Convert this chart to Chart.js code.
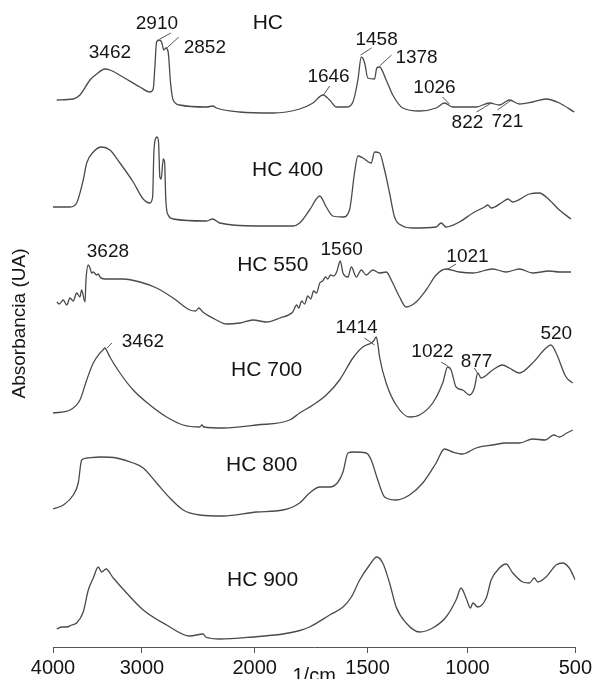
<!DOCTYPE html>
<html><head><meta charset="utf-8">
<script src="https://cdn.jsdelivr.net/npm/chart.js@4.4.1/dist/chart.umd.min.js"></script>
<style>html,body{margin:0;padding:0;background:#fff;overflow:hidden;width:595px;height:679px}canvas{display:block}</style>
</head><body><canvas id="c" width="595" height="688"></canvas>
<script>
const xTicks = [4000, 3000, 2000, 1500, 1000, 500];
const seriesNames = ['HC', 'HC 400', 'HC 550', 'HC 700', 'HC 800', 'HC 900'];

const hcSpectrum = [[3958,5.47],[3772,5.48],[3697,5.52],[3584,5.67],[3509,5.73],[3416,5.78],[3360,5.77],[3213,5.70],[3022,5.60],[2929,5.55],[2900,5.58],[2885,5.80],[2870,6.05],[2847,6.07],[2826,6.05],[2805,5.97],[2788,5.99],[2767,5.95],[2746,5.64],[2723,5.47],[2664,5.42],[2427,5.40],[2372,5.41],[2339,5.39],[2133,5.35],[1919,5.34],[1801,5.38],[1742,5.44],[1698,5.52],[1668,5.47],[1638,5.40],[1594,5.40],[1565,5.45],[1543,5.67],[1528,5.90],[1513,5.84],[1499,5.69],[1465,5.68],[1454,5.79],[1440,5.80],[1407,5.67],[1374,5.52],[1324,5.39],[1240,5.36],[1157,5.39],[1115,5.44],[1074,5.40],[1040,5.40],[960,5.40],[898,5.44],[852,5.42],[806,5.47],[759,5.43],[698,5.45],[636,5.48],[574,5.44],[505,5.35]];

const hc400Spectrum = [[4000,4.40],[3809,4.40],[3734,4.44],[3660,4.67],[3621,4.84],[3547,4.95],[3453,5.00],[3360,4.97],[3247,4.84],[3098,4.65],[2988,4.48],[2929,4.44],[2905,4.50],[2894,4.94],[2876,5.09],[2865,5.10],[2852,5.04],[2841,4.70],[2829,4.68],[2811,4.88],[2799,4.85],[2788,4.47],[2767,4.32],[2723,4.28],[2427,4.26],[2374,4.28],[2310,4.24],[1992,4.21],[1831,4.21],[1801,4.24],[1757,4.37],[1712,4.51],[1683,4.40],[1654,4.31],[1609,4.30],[1580,4.37],[1558,4.74],[1543,4.91],[1521,4.89],[1482,4.84],[1465,4.95],[1440,4.94],[1415,4.77],[1390,4.54],[1365,4.30],[1324,4.21],[1274,4.19],[1157,4.20],[1132,4.24],[1107,4.20],[1040,4.25],[975,4.34],[921,4.40],[906,4.42],[890,4.39],[837,4.45],[813,4.48],[790,4.45],[713,4.53],[667,4.54],[620,4.47],[574,4.37],[520,4.28]];

const hc550Spectrum = [[3958,3.45],[3930,3.43],[3884,3.47],[3846,3.42],[3809,3.49],[3772,3.46],[3734,3.54],[3697,3.50],[3678,3.57],[3640,3.45],[3629,3.67],[3603,3.82],[3584,3.79],[3565,3.74],[3547,3.75],[3509,3.72],[3490,3.73],[3472,3.70],[3416,3.68],[3210,3.68],[3022,3.65],[2870,3.59],[2723,3.49],[2575,3.37],[2522,3.36],[2496,3.39],[2460,3.35],[2339,3.27],[2250,3.23],[2133,3.24],[2015,3.27],[1948,3.25],[1889,3.29],[1832,3.35],[1814,3.42],[1805,3.39],[1792,3.46],[1779,3.43],[1765,3.51],[1752,3.48],[1739,3.56],[1726,3.54],[1712,3.64],[1699,3.66],[1686,3.70],[1677,3.68],[1664,3.72],[1651,3.71],[1637,3.75],[1621,3.86],[1609,3.74],[1587,3.70],[1572,3.80],[1550,3.70],[1528,3.77],[1506,3.72],[1474,3.77],[1440,3.74],[1407,3.75],[1374,3.64],[1340,3.50],[1307,3.40],[1257,3.45],[1207,3.57],[1157,3.72],[1107,3.78],[1040,3.75],[975,3.74],[883,3.78],[821,3.75],[759,3.78],[698,3.74],[620,3.76],[574,3.75],[520,3.75]];

const hc700Spectrum = [[4000,2.34],[3809,2.37],[3697,2.47],[3621,2.67],[3547,2.84],[3472,2.94],[3438,2.97],[3416,2.99],[3393,2.96],[3360,2.90],[3247,2.74],[3098,2.57],[2929,2.42],[2781,2.30],[2635,2.22],[2487,2.20],[2469,2.22],[2450,2.20],[2281,2.19],[1992,2.22],[1845,2.27],[1801,2.34],[1742,2.42],[1683,2.52],[1624,2.67],[1565,2.89],[1521,3.00],[1482,3.04],[1470,3.06],[1457,3.10],[1448,3.02],[1440,2.90],[1407,2.64],[1357,2.42],[1290,2.30],[1240,2.32],[1174,2.44],[1124,2.64],[1099,2.80],[1082,2.77],[1057,2.60],[1024,2.57],[991,2.52],[968,2.59],[952,2.74],[937,2.69],[883,2.77],[837,2.82],[806,2.79],[759,2.74],[698,2.84],[636,2.99],[613,3.02],[589,2.94],[543,2.70],[512,2.64]];

const hc800Spectrum = [[4000,1.38],[3884,1.42],[3772,1.52],[3716,1.64],[3678,1.87],[3621,1.89],[3472,1.90],[3284,1.89],[3098,1.84],[2988,1.79],[2870,1.64],[2752,1.49],[2634,1.37],[2487,1.32],[2281,1.31],[1992,1.35],[1875,1.37],[1801,1.44],[1757,1.54],[1712,1.60],[1668,1.60],[1631,1.65],[1609,1.75],[1587,1.94],[1565,1.95],[1506,1.94],[1482,1.87],[1449,1.67],[1415,1.50],[1357,1.47],[1290,1.52],[1224,1.64],[1157,1.84],[1115,1.98],[1074,1.95],[1024,1.93],[960,1.99],[883,2.02],[821,2.04],[759,2.04],[698,2.08],[640,2.07],[600,2.12],[574,2.10],[540,2.14],[512,2.17]];

const hc900Spectrum = [[3958,0.18],[3900,0.20],[3846,0.20],[3790,0.22],[3734,0.24],[3660,0.35],[3603,0.57],[3547,0.69],[3491,0.80],[3453,0.75],[3404,0.78],[3322,0.69],[3172,0.54],[2988,0.37],[2781,0.22],[2575,0.11],[2457,0.13],[2434,0.10],[2310,0.08],[2015,0.10],[1875,0.13],[1808,0.16],[1757,0.20],[1668,0.32],[1609,0.40],[1572,0.50],[1535,0.67],[1490,0.82],[1454,0.90],[1424,0.84],[1390,0.64],[1357,0.40],[1307,0.24],[1240,0.15],[1174,0.19],[1107,0.30],[1057,0.47],[1032,0.59],[1007,0.49],[986,0.39],[975,0.44],[952,0.40],[913,0.49],[890,0.67],[852,0.79],[821,0.83],[790,0.74],[744,0.65],[713,0.64],[690,0.69],[674,0.65],[636,0.70],[589,0.82],[559,0.84],[528,0.79],[500,0.67]];

// series name labels: [wavenumber, absorbance]
const nameAnchors = [[1942,6.24],[1854,4.77],[1920,3.82],[1947,2.77],[1969,1.82],[1965,0.67]];
// peak labels: [text, wavenumber, absorbance]
const peakLabels = [['3462',3360,5.94],['2910',2867,6.23],['2852',2442,5.99],['1646',1673,5.70],['1458',1455,6.07],['1378',1255,5.89],['1026',1165,5.59],['822',1000,5.24],['721',815,5.25],['3628',3382,3.95],['1560',1615,3.97],['1021',1000,3.90],['3462',2991,3.05],['1414',1549,3.19],['1022',1175,2.95],['877',958,2.85],['520',588,3.13]];
// leader lines: [w1, a1, w2, a2]
const leaderLines = [[2841,6.08,2743,6.14],[2779,5.99,2673,6.10],[1531,5.92,1480,5.99],[1440,5.81,1380,5.92],[1695,5.52,1668,5.61],[1125,5.50,1090,5.43],[958,5.35,889,5.44],[861,5.37,796,5.47],[1107,3.77,1057,3.83],[3393,2.99,3337,3.04],[1514,3.09,1465,3.02],[1132,2.85,1099,2.81],[968,2.79,954,2.74]];

const spectra = [hcSpectrum, hc400Spectrum, hc550Spectrum, hc700Spectrum, hc800Spectrum, hc900Spectrum];

// axis break layout (fraction of axis length where each tick sits)
const tickFrac = [0, 0.1702, 0.3862, 0.6023, 0.7935, 1];

function waveToFrac(v) {
  let i = 0;
  while (i < xTicks.length - 2 && v < xTicks[i + 1]) i++;
  const a = xTicks[i], b = xTicks[i + 1];
  return tickFrac[i] + (a - v) / (a - b) * (tickFrac[i + 1] - tickFrac[i]);
}
function fracToWave(f) {
  let i = 0;
  while (i < tickFrac.length - 2 && f > tickFrac[i + 1]) i++;
  const a = xTicks[i], b = xTicks[i + 1];
  return a - (f - tickFrac[i]) / (tickFrac[i + 1] - tickFrac[i]) * (a - b);
}

class WaveScale extends Chart.LinearScale {
  buildTicks() { return xTicks.map(v => ({ value: v })); }
  getPixelForValue(value) {
    if (value === null || value === undefined || isNaN(value)) return NaN;
    return this.left + waveToFrac(value) * this.width;
  }
  getValueForPixel(pixel) {
    return fracToWave((pixel - this.left) / this.width);
  }
}
WaveScale.id = 'wave';
WaveScale.defaults = {};
Chart.register(WaveScale);

const FONT = '"Liberation Sans", Arial, sans-serif';
const lineColor = '#4a4a4a';
const textColor = '#151515';

const annotate = {
  id: 'annotate',
  afterDatasetsDraw(chart) {
    const ctx = chart.ctx, xs = chart.scales.x, ys = chart.scales.y;
    ctx.save();
    ctx.strokeStyle = '#555';
    ctx.lineWidth = 1;
    leaderLines.forEach(l => {
      ctx.beginPath();
      ctx.moveTo(xs.getPixelForValue(l[0]), ys.getPixelForValue(l[1]));
      ctx.lineTo(xs.getPixelForValue(l[2]), ys.getPixelForValue(l[3]));
      ctx.stroke();
    });
    ctx.fillStyle = textColor;
    ctx.textAlign = 'center';
    ctx.textBaseline = 'middle';
    ctx.font = '19px ' + FONT;
    peakLabels.forEach(p => ctx.fillText(p[0], xs.getPixelForValue(p[1]), ys.getPixelForValue(p[2])));
    ctx.font = '21px ' + FONT;
    nameAnchors.forEach((n, i) => ctx.fillText(seriesNames[i], xs.getPixelForValue(n[0]), ys.getPixelForValue(n[1])));
    ctx.restore();
  }
};

new Chart(document.getElementById('c'), {
  type: 'line',
  data: {
    datasets: spectra.map((s, i) => ({
      label: seriesNames[i],
      data: s.map(p => ({ x: p[0], y: p[1] })),
      borderColor: lineColor,
      borderWidth: 1.3,
      pointRadius: 0,
      cubicInterpolationMode: 'monotone',
      fill: false
    }))
  },
  options: {
    responsive: false,
    animation: false,
    devicePixelRatio: 1,
    layout: { padding: { left: 0, right: 19, top: 0, bottom: 0 } },
    plugins: { legend: { display: false }, tooltip: { enabled: false } },
    scales: {
      x: {
        type: 'wave',
        min: 500, max: 4000,
        grid: { display: true, drawOnChartArea: false, drawTicks: true, tickLength: 6, color: '#555' },
        border: { display: true, color: '#555', width: 1 },
        ticks: { color: textColor, padding: 3, font: { family: FONT, size: 20 }, callback: v => String(v), maxRotation: 0, autoSkip: false },
        title: { display: true, text: '1/cm', color: textColor, font: { family: FONT, size: 20 }, padding: { top: 0, bottom: 0 } },
        afterFit: s => { s.height = 41; }
      },
      y: {
        type: 'linear',
        min: 0, max: 6.47,
        grid: { display: false },
        border: { display: false },
        ticks: { display: false },
        title: { display: true, text: 'Absorbancia (UA)', color: textColor, font: { family: FONT, size: 19 }, padding: { top: 8, bottom: 0 } },
        afterFit: s => { s.width = 53; }
      }
    }
  },
  plugins: [annotate]
});
</script>
</body></html>
